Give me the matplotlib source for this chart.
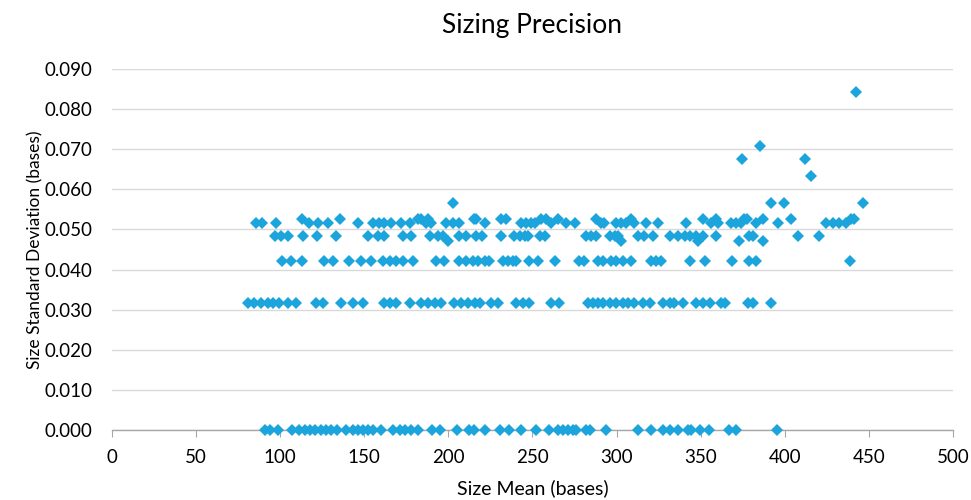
import numpy as np
import matplotlib.pyplot as plt

plt.rcParams['font.family'] = ['Lato', 'DejaVu Sans']

# size mean (bases) for each standard-deviation level
x_000 = [91, 94, 99, 107, 111, 115, 118, 121, 124, 127, 130, 134, 139, 143, 146, 149, 152, 155, 160,
         167, 171, 174, 178, 182, 190, 195, 205, 212, 215.5, 221.5, 230.4, 236.3, 243.3, 252.2, 260.1,
         265, 268, 271, 274, 276, 282, 284, 293.8, 312.6, 320.6, 327.5, 331.5, 336.4, 342.3, 344.4,
         349.3, 355.2, 367.1, 371.1, 395.2]
x_0316 = [80.7, 84.7, 88.6, 92.6, 95.6, 99.6, 104.5, 109.5, 121.4, 125.3, 136.3, 143.2, 149.1, 162, 165,
          169, 176.9, 183.8, 187.8, 191.9, 195.8, 203.6, 207.6, 211.6, 215.7, 218.5, 225.5, 229.4, 240.3,
          244.2, 248.2, 261.1, 265.6, 282.9, 285.8, 288.8, 291.8, 295.8, 299.7, 303.7, 306.7, 310.6,
          315.6, 319.6, 327.5, 331.5, 334.4, 339.4, 347.4, 351.3, 355.3, 362.2, 364.2, 378, 381, 391.5]
x_0422 = [101.2, 106.5, 113.1, 126.3, 131.3, 140.8, 148.2, 154.1, 161.4, 165, 169, 172.9, 178.8, 192.7,
          197.6, 206.6, 210.6, 214.5, 217.5, 221.5, 224.4, 232.3, 235.3, 238.3, 240.3, 248.2, 253.2,
          263.1, 277.9, 280.9, 288.8, 291.8, 296.8, 299.8, 303.7, 308.7, 320.6, 323.5, 326.5, 343.4,
          352.3, 368.5, 379, 383, 438.5]
x_0483 = [97.2, 100.6, 104.5, 113.4, 121.8, 132.9, 152.1, 158, 162, 172.9, 177.9, 188.8, 193.7, 196.7,
          206.6, 210.6, 216.5, 220.1, 231.4, 239.3, 242.3, 245.3, 247.3, 254.2, 257.2, 282, 284.9,
          287.9, 295.8, 298.8, 300.7, 312.6, 316.5, 321.5, 331.5, 336.4, 340.4, 343.4, 347.4, 351.3,
          359.3, 378.6, 381, 407.7, 420.2]
x_047 = [199.7, 302.7, 348.3, 372.7, 386.9]
x_0516 = [85.7, 89.3, 97.6, 117.4, 122.4, 128.7, 146.1, 155, 159, 162, 165.6, 171.9, 176.9, 186.8, 189.8,
          198.7, 202.6, 206.6, 221.5, 243.3, 246.3, 249.2, 251.2, 261.1, 270, 275, 290.8, 292.8, 299.8,
          302.7, 305.7, 310.6, 317.6, 324.5, 341.4, 356.2, 360.2, 368.1, 371.1, 374.1, 383, 395.8,
          424.2, 428.5, 432.5, 436.5]
x_0527 = [113.1, 135.3, 181.8, 183.8, 187.8, 216.5, 215.5, 231.4, 234.4, 255.2, 258.2, 265.1, 287.9,
          308.7, 351.3, 358.8, 376, 377.4, 386.9, 403.8, 439.5, 441.4]
# scattered high values
x_high = [203, 391.5, 399.8, 446.4, 415.7, 374.7, 411.7, 385, 442.4]
y_high = [0.0567, 0.0567, 0.0567, 0.0567, 0.0632, 0.0675, 0.0675, 0.0707, 0.0843]

xs = x_000 + x_0316 + x_0422 + x_0483 + x_047 + x_0516 + x_0527 + x_high
ys = ([0.0] * len(x_000) + [0.0316] * len(x_0316) + [0.0422] * len(x_0422) + [0.0483] * len(x_0483)
      + [0.047] * len(x_047) + [0.0516] * len(x_0516) + [0.0527] * len(x_0527) + y_high)

fig = plt.figure(figsize=(9.71, 5.0), dpi=100)
ax = fig.add_axes([0.1153, 0.14, 0.8662, 0.722])

ax.plot(xs, ys, linestyle='none', marker='D', markersize=6.4, color='#1CA5DC',
        markeredgewidth=0, zorder=3, clip_on=False)

ax.set_xlim(0, 500)
ax.set_ylim(0, 0.090)
ax.set_xticks(np.arange(0, 501, 50))
ax.set_yticks(np.arange(0, 0.0901, 0.01))
ax.set_yticklabels(['%.3f' % v for v in np.arange(0, 0.0901, 0.01)])

ax.grid(axis='y', color='#D9D9D9', linewidth=1.0)
ax.set_axisbelow(True)
for s in ['top', 'right', 'left']:
    ax.spines[s].set_visible(False)
ax.spines['bottom'].set_color('#A6A6A6')
ax.spines['bottom'].set_linewidth(1.0)
ax.tick_params(axis='x', direction='out', length=5, color='#A6A6A6', labelsize=13.5, pad=9)
ax.tick_params(axis='y', length=0, labelsize=13.5, pad=14)

ax.set_title('Sizing Precision', fontsize=19, pad=26)
ax.set_xlabel('Size Mean (bases)', fontsize=14, labelpad=9)
ax.set_ylabel('Size Standard Deviation (bases)', fontsize=12.5, labelpad=1)

fig.savefig('out.png', dpi=100)
